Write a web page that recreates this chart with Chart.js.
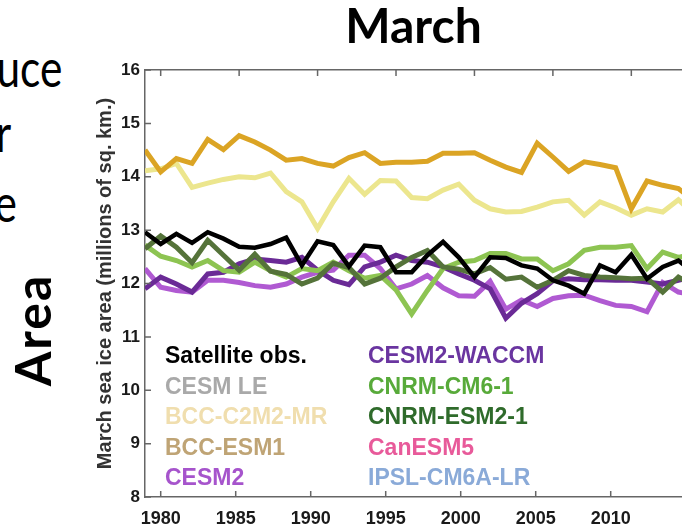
<!DOCTYPE html>
<html>
<head>
<meta charset="utf-8">
<script src="https://cdn.jsdelivr.net/npm/chart.js@4.4.1/dist/chart.umd.min.js"></script>
<style>
  html, body { margin: 0; padding: 0; background: #fff; }
  body { width: 684px; height: 526px; overflow: hidden; position: relative; }
  #wrap { position: absolute; left: 0; top: 0; width: 682px; height: 526px; }
  .slide { position: absolute; color: #000; font-family: Lato, "Open Sans", sans-serif;
           font-size: 53px; line-height: 53px; white-space: nowrap;
           transform: scaleX(0.8); transform-origin: right top; }
  #area { position: absolute; left: 32px; top: 330px; font-family: Lato, sans-serif;
          font-weight: bold; font-size: 50px; line-height: 50px; letter-spacing: 2px;
          transform: translate(-50%, -50%) rotate(-90deg); white-space: nowrap; }
</style>
</head>
<body>
<div class="slide" style="right:622px; top:40px;">uce</div>
<div class="slide" style="right:673px; top:105px;">r</div>
<div class="slide" style="right:667px; top:175px;">e</div>
<div id="area">Area</div>
<div id="wrap"><canvas id="chart" width="682" height="526"></canvas></div>

<script>
const years = [1979, 1980, 1981, 1982, 1983, 1984, 1985, 1986, 1987, 1988, 1989, 1990,
  1991, 1992, 1993, 1994, 1995, 1996, 1997, 1998, 1999, 2000, 2001, 2002,
  2003, 2004, 2005, 2006, 2007, 2008, 2009, 2010, 2011, 2012, 2013, 2014];

const satelliteObs = [12.96, 12.74, 12.93, 12.76, 12.96, 12.84, 12.69, 12.67, 12.74, 12.86, 12.34, 12.79,
  12.72, 12.32, 12.71, 12.68, 12.21, 12.21, 12.53, 12.78, 12.49, 12.12, 12.49, 12.48,
  12.34, 12.28, 12.06, 11.96, 11.81, 12.34, 12.21, 12.54, 12.09, 12.31, 12.43, 12.20];
const cnrmEsm2 = [12.65, 12.89, 12.68, 12.39, 12.81, 12.53, 12.25, 12.55, 12.23, 12.17, 11.99, 12.10,
  12.38, 12.30, 11.99, 12.10, 12.31, 12.49, 12.62, 12.31, 12.27, 12.18, 12.30, 12.08,
  12.12, 11.93, 12.06, 12.24, 12.15, 12.12, 12.11, 12.09, 12.10, 11.84, 12.12, 11.95];
const cnrmCm6 = [12.72, 12.51, 12.43, 12.31, 12.43, 12.24, 12.21, 12.40, 12.24, 12.12, 12.28, 12.24,
  12.40, 12.24, 12.10, 12.15, 11.88, 11.43, 11.87, 12.28, 12.40, 12.43, 12.56, 12.56,
  12.46, 12.46, 12.24, 12.37, 12.62, 12.68, 12.68, 12.71, 12.28, 12.59, 12.49, 12.55];
const cesm2Waccm = [11.90, 12.12, 11.99, 11.84, 12.18, 12.21, 12.37, 12.46, 12.43, 12.40, 12.49, 12.25,
  12.06, 11.98, 12.31, 12.40, 12.53, 12.43, 12.40, 12.31, 12.18, 12.06, 11.90, 11.35,
  11.63, 11.81, 12.05, 12.09, 12.07, 12.07, 12.06, 12.06, 12.03, 11.99, 12.06, 12.12];
const cesm2 = [12.28, 11.93, 11.87, 11.84, 12.06, 12.06, 12.02, 11.96, 11.93, 11.99, 12.12, 12.21,
  12.25, 12.53, 12.53, 12.28, 11.90, 11.99, 12.15, 11.92, 11.77, 11.76, 12.04, 11.52,
  11.69, 11.57, 11.72, 11.77, 11.78, 11.68, 11.59, 11.57, 11.47, 12.02, 11.84, 11.78];
const bccEsm1 = [14.50, 14.09, 14.34, 14.25, 14.70, 14.51, 14.77, 14.65, 14.50, 14.31, 14.34, 14.25,
  14.20, 14.36, 14.45, 14.25, 14.27, 14.27, 14.29, 14.44, 14.44, 14.45, 14.31, 14.18,
  14.08, 14.63, 14.37, 14.10, 14.28, 14.23, 14.17, 13.40, 13.92, 13.84, 13.78, 13.55];
const bccCsm2 = [14.11, 14.15, 14.25, 13.80, 13.88, 13.95, 14.00, 13.98, 14.07, 13.72, 13.53, 13.03,
  13.53, 13.97, 13.67, 13.93, 13.92, 13.61, 13.59, 13.75, 13.86, 13.56, 13.40, 13.34,
  13.35, 13.43, 13.53, 13.56, 13.28, 13.53, 13.42, 13.28, 13.40, 13.34, 13.57, 13.30];

const tickYears = [1980, 1985, 1990, 1995, 2000, 2005, 2010];
const tickValues = [8, 9, 10, 11, 12, 13, 14, 15, 16];

const legendNames = ['Satellite obs.', 'CESM LE', 'BCC-C2M2-MR', 'BCC-ESM1', 'CESM2',
  'CESM2-WACCM', 'CNRM-CM6-1', 'CNRM-ESM2-1', 'CanESM5', 'IPSL-CM6A-LR'];
const legendColors = ['#000000', '#a9a9a9', '#f0deae', '#bfa475', '#a654cc',
  '#6a35a0', '#58aa3a', '#2f6b2b', '#e85a9a', '#8aaad8'];

const axisColor = '#666';

function series(values) {
  return values.map((v, i) => ({ x: years[i], y: v }));
}

function line(label, values, color, width) {
  return {
    label: label,
    data: series(values),
    borderColor: color,
    borderWidth: width,
    pointRadius: 0,
    tension: 0,
    fill: false,
    xAxisID: 'x2',
    yAxisID: 'y'
  };
}

// short tick marks drawn on the inside of the box
const innerTicks = {
  id: 'innerTicks',
  afterDraw(chart) {
    const ctx = chart.ctx;
    const area = chart.chartArea;
    const len = 6;
    ctx.save();
    ctx.strokeStyle = axisColor;
    ctx.lineWidth = 1.5;
    ctx.beginPath();
    chart.scales.x.ticks.forEach(t => {
      const px = chart.scales.x.getPixelForValue(t.value);
      ctx.moveTo(px, area.bottom);
      ctx.lineTo(px, area.bottom - len);
    });
    chart.scales.x2.ticks.forEach(t => {
      const px = chart.scales.x2.getPixelForValue(t.value);
      ctx.moveTo(px, area.top);
      ctx.lineTo(px, area.top + len);
    });
    chart.scales.y.ticks.forEach(t => {
      const py = chart.scales.y.getPixelForValue(t.value);
      ctx.moveTo(area.left, py);
      ctx.lineTo(area.left + len, py);
    });
    ctx.stroke();
    ctx.restore();
  }
};

// two-column text legend inside the lower left of the plot
const textLegend = {
  id: 'textLegend',
  afterDraw(chart) {
    const ctx = chart.ctx;
    const area = chart.chartArea;
    ctx.save();
    ctx.font = 'bold 23px "Liberation Sans", Arial, sans-serif';
    ctx.textBaseline = 'alphabetic';
    ctx.textAlign = 'left';
    legendNames.forEach((name, i) => {
      const col = Math.floor(i / 5);
      const row = i % 5;
      ctx.fillStyle = legendColors[i];
      ctx.fillText(name, area.left + 20 + col * 203, area.bottom - 134 + row * 30.5);
    });
    ctx.restore();
  }
};

new Chart(document.getElementById('chart'), {
  type: 'line',
  data: {
    datasets: [
      line('Satellite obs.', satelliteObs, '#000000', 4.5),
      line('CNRM-ESM2-1', cnrmEsm2, '#55733a', 5),
      line('CNRM-CM6-1', cnrmCm6, '#8dc452', 5),
      line('CESM2-WACCM', cesm2Waccm, '#6a2a96', 5),
      line('CESM2', cesm2, '#b05ad2', 5),
      line('BCC-ESM1', bccEsm1, '#dba424', 5),
      line('BCC-CSM2-MR', bccCsm2, '#ece68e', 5)
    ]
  },
  options: {
    responsive: false,
    animation: false,
    layout: { padding: { left: 89, right: 0, top: 0, bottom: 0 } },
    plugins: {
      legend: { display: false },
      tooltip: { enabled: false },
      title: {
        display: true,
        text: 'March',
        fullSize: false,
        color: '#000',
        font: { family: 'Lato, sans-serif', weight: 'bold', size: 48, lineHeight: 1 },
        padding: { top: 4, bottom: 0 }
      }
    },
    scales: {
      x: {
        type: 'linear',
        position: 'bottom',
        min: 1978.953,
        max: 2014.753,
        grid: { display: false, drawTicks: false },
        border: { display: true, color: axisColor, width: 1.5 },
        ticks: {
          padding: 11,
          color: '#1a1a1a',
          maxRotation: 0,
          autoSkip: false,
          font: { family: '"Liberation Sans", Arial, sans-serif', weight: 'bold', size: 18 },
          callback: v => String(v)
        },
        afterBuildTicks: s => { s.ticks = tickYears.map(v => ({ value: v })); },
        afterFit: s => { s.height = 29; }
      },
      x2: {
        type: 'linear',
        position: 'top',
        min: 1979,
        max: 2013.23,
        grid: { display: false, drawTicks: false },
        border: { display: true, color: axisColor, width: 1.5 },
        ticks: { display: false },
        afterBuildTicks: s => { s.ticks = tickYears.map(v => ({ value: v })); },
        afterFit: s => { s.height = 18; }
      },
      y: {
        min: 8,
        max: 16,
        grid: { display: false, drawTicks: false },
        border: { display: true, color: axisColor, width: 1.5 },
        ticks: {
          padding: 5,
          color: '#1a1a1a',
          font: { family: '"Liberation Sans", Arial, sans-serif', weight: 'bold', size: 17 }
        },
        afterBuildTicks: s => { s.ticks = tickValues.map(v => ({ value: v })); },
        title: {
          display: true,
          text: 'March sea ice area (millions of sq. km.)',
          color: '#333',
          font: { family: '"Liberation Sans", Arial, sans-serif', weight: 'bold', size: 20 }
        },
        afterFit: s => { s.width = 56; }
      }
    }
  },
  plugins: [innerTicks, textLegend]
});
</script>
</body>
</html>
